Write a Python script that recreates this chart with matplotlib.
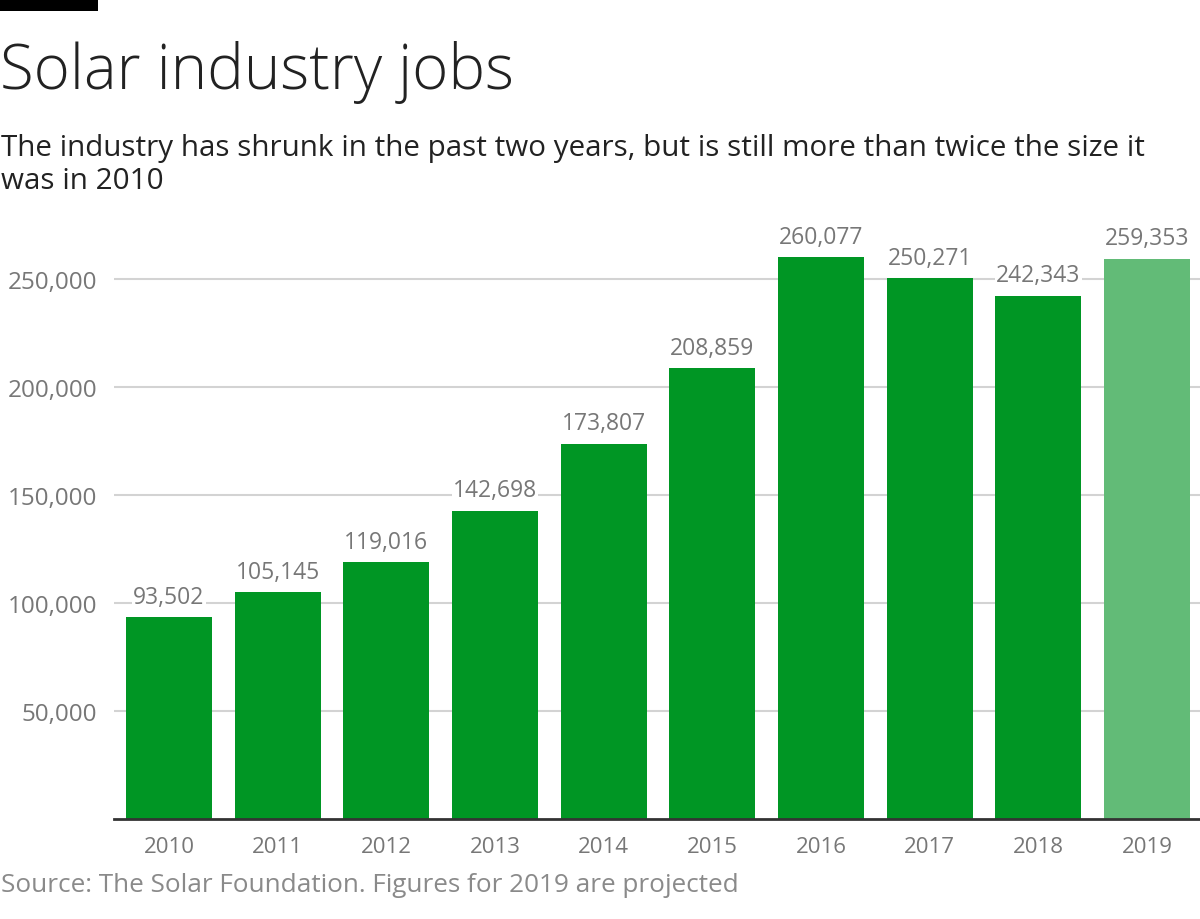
import matplotlib
matplotlib.use("Agg")
import matplotlib.pyplot as plt
from matplotlib.patches import Rectangle

years = ["2010", "2011", "2012", "2013", "2014", "2015", "2016", "2017", "2018", "2019"]
jobs = [93502, 105145, 119016, 142698, 173807, 208859, 260077, 250271, 242343, 259353]
projected = [False] * 9 + [True]
yticks = [50000, 100000, 150000, 200000, 250000]

title = "Solar industry jobs"
subtitle = "The industry has shrunk in the past two years, but is still more than twice the size it\nwas in 2010"
source = "Source: The Solar Foundation. Figures for 2019 are projected"

plt.rcParams['font.family'] = ['Open Sans', 'DejaVu Sans']

W, H = 1200, 920
fig = plt.figure(figsize=(W / 100, H / 100), dpi=100)
fig.patch.set_facecolor("white")

# black accent bar at top-left
fig.patches.append(Rectangle((0, 1 - 12 / H), 98 / W, 12 / H, transform=fig.transFigure,
                             facecolor="black", edgecolor="none"))

fig.text(0 / W, 1 - 72 / H, title, fontsize=44.5, fontweight="light", color="#222222",
         va="center", ha="left")
fig.text(1 / W, 1 - 165 / H, subtitle, fontsize=21.3, color="#222222", va="center",
         ha="left", linespacing=1.15)
fig.text(1 / W, 1 - 886 / H, source, fontsize=18.8, color="#8a8a8a", va="center", ha="left")

ax_left, ax_right = 114, 1200
ax_top, ax_bottom = 225, 820
ax = fig.add_axes([ax_left / W, (H - ax_bottom) / H, (ax_right - ax_left) / W,
                   (ax_bottom - ax_top) / H])
px_per_k = 2.16
ax.set_ylim(0, (ax_bottom - ax_top) / px_per_k * 1000)
ax.set_xlim(-0.506, 9.488)

colors = ["#62bb77" if p else "#009624" for p in projected]
x = list(range(len(years)))
ax.bar(x, jobs, width=0.79, color=colors, zorder=2)

for xi, v in zip(x, jobs):
    ax.annotate(f"{v:,}", (xi, v), xytext=(0, 6), textcoords="offset points",
                ha="center", va="bottom", fontsize=16.5, color="#777777", zorder=3,
                bbox=dict(boxstyle="square,pad=0.05", facecolor="white", edgecolor="none"))

ax.set_yticks(yticks)
ax.set_yticklabels([f"{t:,}" for t in yticks])
ax.set_xticks(x)
ax.set_xticklabels(years)
ax.tick_params(axis="y", length=0, pad=12, labelsize=17.5, labelcolor="#777777")
ax.tick_params(axis="x", length=0, pad=12, labelsize=16, labelcolor="#777777")
ax.grid(axis="y", color="#d3d3d3", linewidth=1.5, zorder=0)
ax.set_axisbelow(True)
for s in ["top", "right", "left"]:
    ax.spines[s].set_visible(False)
ax.spines["bottom"].set_color("#333333")
ax.spines["bottom"].set_linewidth(2)
ax.spines["bottom"].set_zorder(4)

fig.savefig("out.png", dpi=100, facecolor="white")
